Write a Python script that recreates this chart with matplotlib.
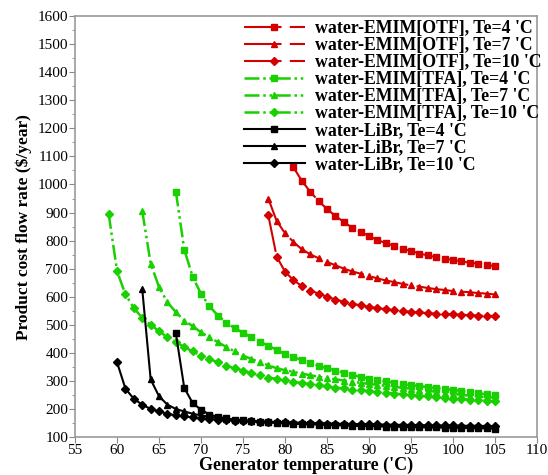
import numpy as np
import matplotlib
matplotlib.use("Agg")
from matplotlib import pyplot as plt
from matplotlib.ticker import MultipleLocator

plt.rcParams["font.family"] = ["Liberation Serif", "DejaVu Serif"]

# water-EMIM[OTF]
otf_t4_x = list(range(81, 106))
otf_t4 = [1061, 1013, 974, 941, 912, 888, 866, 846, 831, 816, 802, 791, 781,
          771, 763, 754, 747, 741, 736, 731, 726, 721, 718, 713, 709]
otf_t7_x = list(range(78, 106))
otf_t7 = [950, 870, 826, 795, 769, 751, 737, 724, 712, 700, 690, 682, 674, 665,
          658, 652, 646, 640, 636, 631, 627, 624, 620, 618, 616, 613, 611, 608]
otf_t10_x = list(range(78, 106))
otf_t10 = [891, 743, 689, 659, 638, 622, 611, 600, 590, 582, 575, 569, 564, 559,
           556, 552, 549, 546, 544, 541, 540, 538, 537, 536, 534, 533, 532, 531]

# water-EMIM[TFA]
tfa_t4_x = list(range(67, 106))
tfa_t4 = [975, 768, 671, 610, 566, 533, 508, 488, 472, 455, 440, 425, 411,
          395, 385, 374, 364, 354, 345, 337, 329, 321, 314, 308, 303, 298,
          294, 289, 285, 281, 278, 274, 271, 268, 264, 260, 256, 252, 249]
tfa_t7_x = list(range(63, 106))
tfa_t7 = [905, 718, 634, 580, 545, 515, 495, 473, 455, 438, 421, 405, 390,
          378, 366, 356, 345, 338, 332, 326, 320, 315, 310, 306, 301, 297,
          293, 289, 286, 282, 279, 275, 272, 268, 265, 261, 257, 254, 250,
          247, 244, 242, 240]
tfa_t10_x = list(range(59, 106))
tfa_t10 = [895, 691, 608, 560, 524, 500, 477, 455, 438, 421, 405, 390, 378,
           366, 354, 345, 337, 328, 320, 312, 307, 302, 297, 292, 288, 284,
           280, 276, 273, 269, 266, 263, 260, 258, 255, 252, 250, 247, 245,
           242, 239, 237, 235, 233, 231, 229, 227]

# water-LiBr
libr_t4_x = list(range(67, 106))
libr_t4 = [469, 275, 221, 197, 180, 172, 166, 162, 159, 156, 154, 152, 150,
           149, 147, 146, 145, 144, 143, 142, 141, 140, 139, 139, 138, 137,
           137, 136, 135, 135, 134, 134, 133, 133, 132, 132, 131, 131, 130]
libr_t7_x = list(range(63, 106))
libr_t7 = [626, 305, 245, 215, 200, 191, 183, 177, 172, 168, 165, 162, 160,
           158, 156, 155, 153, 152, 151, 150, 149, 148, 147, 146, 145, 145,
           144, 143, 143, 142, 142, 141, 141, 140, 140, 139, 139, 138, 138,
           137, 137, 137, 136]
libr_t10_x = list(range(60, 106))
libr_t10 = [366, 272, 236, 215, 200, 191, 183, 177, 174, 170, 166, 164, 162,
            160, 158, 157, 156, 155, 154, 153, 152, 151, 150, 149, 149, 148,
            147, 147, 146, 146, 145, 145, 144, 144, 143, 143, 142, 142, 141,
            141, 141, 140, 140, 140, 139, 139]

red = "#d40000"
green = "#19d000"
otf_dash = (18, 4)
tfa_dash = (6, 1.5, 1, 1.5, 1, 1.5)

fig = plt.figure(figsize=(5.48, 4.75), dpi=100)
ax = fig.add_axes([0.137, 0.08, 0.843, 0.886])

ax.plot(otf_t4_x, otf_t4, color=red, lw=1.5, dashes=otf_dash, marker="s", ms=4.5,
        label="water-EMIM[OTF], Te=4 'C")
ax.plot(otf_t7_x, otf_t7, color=red, lw=1.5, dashes=otf_dash, marker="^", ms=4.5,
        label="water-EMIM[OTF], Te=7 'C")
ax.plot(otf_t10_x, otf_t10, color=red, lw=1.5, dashes=otf_dash, marker="D", ms=4,
        label="water-EMIM[OTF], Te=10 'C")
ax.plot(tfa_t4_x, tfa_t4, color=green, lw=1.8, dashes=tfa_dash, marker="s", ms=4.5,
        label="water-EMIM[TFA], Te=4 'C")
ax.plot(tfa_t7_x, tfa_t7, color=green, lw=1.8, dashes=tfa_dash, marker="^", ms=4.5,
        label="water-EMIM[TFA], Te=7 'C")
ax.plot(tfa_t10_x, tfa_t10, color=green, lw=1.8, dashes=tfa_dash, marker="D", ms=4,
        label="water-EMIM[TFA], Te=10 'C")
ax.plot(libr_t4_x, libr_t4, color="black", lw=1.5, marker="s", ms=4.5,
        label="water-LiBr, Te=4 'C")
ax.plot(libr_t7_x, libr_t7, color="black", lw=1.5, marker="^", ms=4.5,
        label="water-LiBr, Te=7 'C")
ax.plot(libr_t10_x, libr_t10, color="black", lw=1.5, marker="D", ms=4,
        label="water-LiBr, Te=10 'C")

ax.set_xlim(55, 110)
ax.set_ylim(100, 1600)
ax.xaxis.set_major_locator(MultipleLocator(5))
ax.yaxis.set_major_locator(MultipleLocator(100))
ax.yaxis.set_minor_locator(MultipleLocator(50))
ax.tick_params(axis="both", which="major", direction="out", length=4,
               labelsize=11, pad=1, color="#888888")
ax.tick_params(axis="y", which="minor", direction="out", length=2.5, color="#888888")
ax.tick_params(top=False, right=False)
for s in ax.spines.values():
    s.set_color("#999999")
    s.set_linewidth(1.2)

ax.set_xlabel("Generator temperature ('C)", fontsize=13, fontweight="bold", labelpad=0)
ax.set_ylabel("Product cost flow rate (\\$/year)", fontsize=12.5, fontweight="bold",
              labelpad=4)

leg = ax.legend(loc="upper right", frameon=False,
                prop={"weight": "bold", "size": 12.8}, handlelength=3.4,
                labelspacing=0.0, borderaxespad=0.1, handletextpad=0.6,
                bbox_to_anchor=(1.03, 1.012))

fig.savefig("out.png", dpi=100)
